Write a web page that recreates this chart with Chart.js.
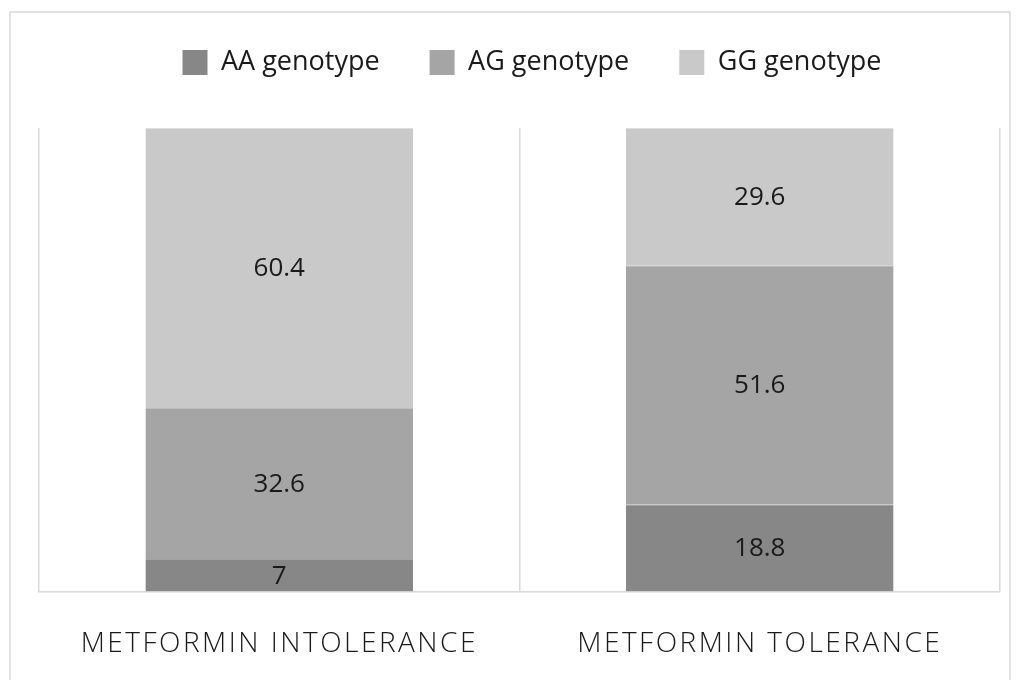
<!DOCTYPE html>
<html>
<head>
<meta charset="utf-8">
<script src="https://cdn.jsdelivr.net/npm/chart.js@4/dist/chart.umd.min.js"></script>
<style>
  html, body { margin: 0; padding: 0; background: #ffffff; }
  #wrap { position: relative; width: 1020px; height: 680px; }
</style>
</head>
<body>
<div id="wrap"><canvas id="chart" width="1020" height="680"></canvas></div>
<script>
// Genotype distribution (%) by metformin response group
const categories = ['METFORMIN INTOLERANCE', 'METFORMIN TOLERANCE'];
const seriesNames = ['AA genotype', 'AG genotype', 'GG genotype'];
const aaValues = [7, 18.8];
const agValues = [32.6, 51.6];
const ggValues = [60.4, 29.6];
const seriesColors = ['#878787', '#a5a5a5', '#c9c9c9'];
const edgeColors = ['#a3a3a3', '#bdbdbd', '#dedede'];

const FONT = "'Open Sans', 'Noto Sans', sans-serif";

// Outer frame around the whole figure
const framePlugin = {
  id: 'frame',
  beforeDraw(chart) {
    const ctx = chart.ctx;
    ctx.save();
    ctx.strokeStyle = '#d9d9d9';
    ctx.lineWidth = 1.5;
    ctx.strokeRect(10, 12, 1000, 720);
    ctx.restore();
  }
};

// Widen the letter spacing of the category labels only
const spacedTicksPlugin = {
  id: 'spacedTicks',
  beforeDraw(chart) {
    const sc = chart.scales.x;
    if (sc && !sc._spacedWrapped) {
      const orig = sc.drawLabels;
      sc.drawLabels = function (area) {
        const ctx = this.ctx;
        ctx.save();
        ctx.letterSpacing = '2.5px';
        orig.call(this, area);
        ctx.restore();
      };
      sc._spacedWrapped = true;
    }
  }
};

// Value printed in the middle of every stacked segment
const segmentLabelPlugin = {
  id: 'segmentLabels',
  afterDatasetsDraw(chart) {
    const ctx = chart.ctx;
    ctx.save();
    ctx.font = '400 26px ' + FONT;
    ctx.fillStyle = '#1a1a1a';
    ctx.textAlign = 'center';
    ctx.textBaseline = 'middle';
    chart.data.datasets.forEach((ds, di) => {
      const meta = chart.getDatasetMeta(di);
      meta.data.forEach((bar, i) => {
        const p = bar.getProps(['x', 'y', 'base'], true);
        ctx.fillText(String(ds.data[i]), p.x, (p.y + p.base) / 2 + 1);
      });
    });
    ctx.restore();
  }
};

const seriesData = [aaValues, agValues, ggValues];

new Chart(document.getElementById('chart'), {
  type: 'bar',
  data: {
    labels: categories,
    datasets: seriesNames.map((name, k) => ({
      label: name,
      data: seriesData[k],
      backgroundColor: seriesColors[k],
      borderColor: edgeColors[k],
      borderWidth: { top: 1, left: 0, right: 0, bottom: 0 },
      borderSkipped: false,
      categoryPercentage: 1,
      barPercentage: 0.557,
      yAxisID: 'y'
    }))
  },
  options: {
    responsive: false,
    animation: false,
    devicePixelRatio: 1,
    layout: { padding: { top: -1, left: 39, right: -5, bottom: -17 } },
    plugins: {
      legend: {
        position: 'top',
        labels: {
          boxWidth: 25,
          boxHeight: 25,
          padding: 50,
          color: '#1a1a1a',
          font: { family: FONT, size: 27, weight: '400' },
          generateLabels(chart) {
            return chart.data.datasets.map((ds, i) => ({
              text: ds.label,
              fillStyle: ds.backgroundColor,
              strokeStyle: ds.backgroundColor,
              lineWidth: 0,
              hidden: false,
              datasetIndex: i,
              fontColor: '#1a1a1a'
            }));
          }
        }
      },
      title: {
        display: true,
        text: '',
        position: 'top',
        weight: 500,
        padding: { top: 0, bottom: 18 },
        font: { size: 20 }
      },
      tooltip: { enabled: false }
    },
    scales: {
      x: {
        stacked: true,
        offset: true,
        grid: {
          display: true,
          offset: true,
          color: '#d9d9d9',
          lineWidth: 1.5,
          drawTicks: false
        },
        border: { display: true, color: '#d9d9d9', width: 1.5 },
        ticks: {
          padding: 36,
          color: '#1a1a1a',
          font: { family: FONT, size: 28, weight: '300' }
        }
      },
      y: {
        stacked: true,
        display: false,
        min: 0,
        max: 100
      },
      // empty right-hand gutter, keeps the plot clear of the frame
      gutter: {
        type: 'linear',
        position: 'right',
        display: true,
        grid: { display: false },
        border: { display: false },
        ticks: { display: false },
        afterFit(scale) { scale.width = 25; }
      }
    }
  },
  plugins: [framePlugin, spacedTicksPlugin, segmentLabelPlugin]
});
</script>
</body>
</html>
